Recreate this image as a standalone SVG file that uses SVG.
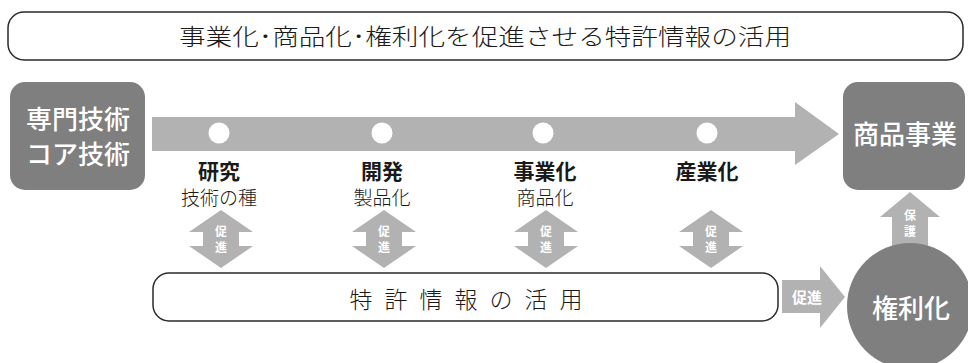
<svg xmlns="http://www.w3.org/2000/svg" width="968" height="363" viewBox="0 0 968 363">
<style>
.jp{font-family:"Noto Sans CJK JP","Noto Sans",sans-serif;}
.dark{fill:#7f7f7f;}
.light{fill:#b2b2b2;}
.outline{fill:#ffffff;stroke:#2a2a2a;stroke-width:1.5;}
.wt{fill:#ffffff;text-anchor:middle;}
.bk{fill:#1a1a1a;text-anchor:middle;}
.thin{font-weight:300;}
.big{font-size:26px;font-weight:500;}
.lbl{font-size:21px;font-weight:bold;}
.sub{font-size:19px;font-weight:300;}
.sm{font-size:12px;font-weight:bold;}
</style>
<defs>
<polygon id="dbl" points="0,-29 32,-7 18,-7 18,7 32,7 0,29 -32,7 -18,7 -18,-7 -32,-7"/>
</defs>

<g id="title">
<rect class="outline" x="8" y="12" width="955" height="48" rx="16"/>
<text class="jp bk thin" x="485" y="45" font-size="23" textLength="612" lengthAdjust="spacingAndGlyphs" fill="#222">事業化･商品化･権利化を促進させる特許情報の活用</text>
</g>

<g id="connectors">
<polygon id="main-arrow" class="light" points="152,117 795,117 795,102 839,134 795,165 795,151 152,151"/>
<g id="promote-arrows" class="light">
<use href="#dbl" x="221" y="239"/>
<use href="#dbl" x="384" y="239"/>
<use href="#dbl" x="546" y="239"/>
<use href="#dbl" x="711" y="239"/>
</g>
<polygon id="protect-arrow" class="light" points="910,192 940,217 928,217 928,250 892,250 892,217 880,217"/>
<polygon id="right-promote" class="light" points="782,280 820,280 820,266 845,297 820,328 820,313 782,313"/>
<g class="jp wt sm">
<text x="221" y="236">促</text><text x="221" y="252">進</text>
<text x="384" y="236">促</text><text x="384" y="252">進</text>
<text x="546" y="236">促</text><text x="546" y="252">進</text>
<text x="711" y="236">促</text><text x="711" y="252">進</text>
<text x="910" y="220">保</text><text x="910" y="236">護</text>
<text x="807" y="303" font-size="15">促進</text>
</g>
</g>

<g id="core-tech">
<rect class="dark" x="10" y="82" width="135" height="108" rx="15"/>
<text class="jp wt big" x="78" y="129" font-size="25">専門技術</text>
<text class="jp wt big" x="78" y="164" font-size="25">コア技術</text>
</g>

<g id="stages">
<g id="stage-research">
<circle cx="219" cy="133" r="10.5" fill="#fff"/>
<text class="jp bk lbl" x="219" y="179">研究</text>
<text class="jp bk sub" x="219" y="205">技術の種</text>
</g>
<g id="stage-development">
<circle cx="382" cy="133" r="10.5" fill="#fff"/>
<text class="jp bk lbl" x="382" y="179">開発</text>
<text class="jp bk sub" x="382" y="205">製品化</text>
</g>
<g id="stage-business">
<circle cx="543" cy="133" r="10.5" fill="#fff"/>
<text class="jp bk lbl" x="545" y="179">事業化</text>
<text class="jp bk sub" x="545" y="205">商品化</text>
</g>
<g id="stage-industry">
<circle cx="707" cy="133" r="10.5" fill="#fff"/>
<text class="jp bk lbl" x="707" y="179">産業化</text>
</g>
</g>

<g id="product-business">
<rect class="dark" x="843" y="82" width="122" height="108" rx="15"/>
<text class="jp wt big" x="905" y="144" font-size="25">商品事業</text>
</g>

<g id="patent-info">
<rect class="outline" x="153" y="273" width="625" height="48" rx="16"/>
<text class="jp bk thin" x="466" y="308" font-size="23" textLength="233" lengthAdjust="spacing" fill="#222">特 許 情 報 の 活 用</text>
</g>

<g id="rights">
<circle class="dark" cx="910" cy="306" r="63"/>
<text class="jp wt big" x="911" y="318">権利化</text>
</g>
</svg>
